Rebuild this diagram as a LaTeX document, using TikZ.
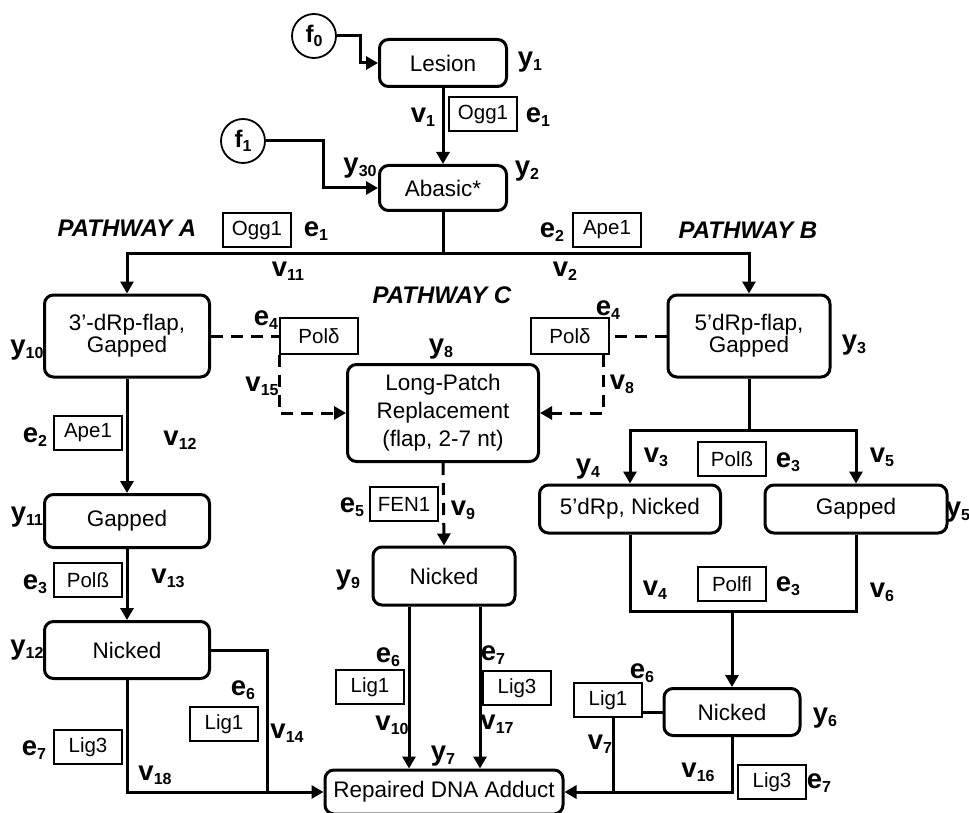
\documentclass[tikz,border=0pt]{standalone}
\usepackage{fontspec}
\setmainfont{Liberation Sans}
\usetikzlibrary{arrows.meta}
\tikzstyle{species}=[draw,line width=3pt,rounded corners=9pt,align=center,inner sep=0pt,font=\fontsize{22.5}{24}\selectfont]
\tikzstyle{enzyme}=[draw,line width=1.2pt,fill=white,minimum width=68pt,minimum height=34pt,inner sep=0pt,font=\fontsize{20.5}{21}\selectfont]
\tikzstyle{source}=[circle,draw,line width=1.8pt,minimum size=44pt,inner sep=0pt,font=\fontsize{24}{24}\selectfont\bfseries]
\tikzstyle{flow}=[line width=3pt,-{Triangle[length=12pt,width=13pt]}]
\tikzstyle{link}=[line width=3pt]
\tikzstyle{dflow}=[flow,dash pattern=on 12pt off 8pt]
\tikzstyle{dlink}=[link,dash pattern=on 12pt off 8pt]
\tikzstyle{pathway}=[inner sep=0pt,font=\fontsize{24}{24}\selectfont\bfseries\itshape]
\tikzstyle{var}=[inner sep=0pt,font=\fontsize{27.5}{28}\selectfont\bfseries]
\newcommand{\lbl}[2]{#1\raisebox{-4pt}{\fontsize{16}{16}\selectfont #2}}

\begin{document}
\begin{tikzpicture}[x=1pt,y=-1pt]
\useasboundingbox (0,0) rectangle (969,813);
\node[species,minimum width=127pt,minimum height=47pt] at (443,63) (lesion) {Lesion};
\node[species,minimum width=127pt,minimum height=45pt] at (443,188) (abasic) {Abasic*};
\node[species,minimum width=165pt,minimum height=82pt,font=\fontsize{22.5}{22}\selectfont] at (127,336) (flapA) {3’-dRp-flap,\\Gapped};
\node[species,minimum width=162pt,minimum height=82pt,font=\fontsize{22.5}{22}\selectfont] at (749,336) (flapB) {5’dRp-flap,\\Gapped};
\node[species,minimum width=191pt,minimum height=97pt,font=\fontsize{22.5}{28}\selectfont] at (443,413) (patch) {Long-Patch\\Replacement\\(flap, 2-7 nt)};
\node[species,minimum width=181pt,minimum height=48pt] at (630,509) (nickB) {5’dRp, Nicked};
\node[species,minimum width=182pt,minimum height=48pt] at (856,509) (gapB) {Gapped};
\node[species,minimum width=165pt,minimum height=53pt] at (127,521) (gapA) {Gapped};
\node[species,minimum width=165pt,minimum height=57pt] at (127,650) (nickA) {Nicked};
\node[species,minimum width=142pt,minimum height=58pt] at (444,576) (nickC) {Nicked};
\node[species,minimum width=136pt,minimum height=47pt] at (732,712) (nickD) {Nicked};
\node[species,minimum width=238pt,minimum height=44pt] at (444,792) (repaired) {Repaired DNA Adduct};
\node[source] at (314,36) (f0) {\lbl{f}{0}};
\node[source] at (243,141) (f1) {\lbl{f}{1}};

\node[enzyme] at (483,114) (ogg1) {Ogg1};
\node[enzyme] at (257,230) (ogg1A) {Ogg1};
\node[enzyme] at (607,230) (ape1B) {Ape1};
\node[enzyme,minimum width=78pt,minimum height=36pt] at (319,336) (poldA) {Polδ};
\node[enzyme,minimum width=78pt,minimum height=36pt] at (570,336) (poldB) {Polδ};
\node[enzyme] at (88,433) (ape1A) {Ape1};
\node[enzyme] at (88,580) (polbA) {Polß};
\node[enzyme] at (224,724) (lig1A) {Lig1};
\node[enzyme] at (88,747) (lig3A) {Lig3};
\node[enzyme] at (404,504) (fen1) {FEN1};
\node[enzyme] at (370,687) (lig1C) {Lig1};
\node[enzyme] at (517,688) (lig3C) {Lig3};
\node[enzyme] at (732,459) (polbB) {Polß};
\node[enzyme] at (732,584) (polfl) {Polfl};
\node[enzyme] at (608,700) (lig1B) {Lig1};
\node[enzyme] at (772,782) (lig3B) {Lig3};

\coordinate (split) at (443,253);
\coordinate (splitB) at (749,430);
\coordinate (mergeB) at (732,611);
\coordinate (join14) at (267,792);
\coordinate (join16) at (613,792);

\draw[flow] (f0.east) -- ++(24,0) |- (lesion.west);
\draw[flow] (f1.east) -- ++(58,0) |- (abasic.west);
\draw[flow] (lesion) -- (abasic);
\draw[flow] (abasic.south) -- (split) -| (flapA.north);
\draw[flow] (split) -| (flapB.north);
\draw[flow] (flapA) -- (gapA);
\draw[flow] (gapA) -- (nickA);
\draw[flow] (nickA.south) |- (repaired.west);
\draw[link] (nickA.east) -| (join14);
\draw[dlink] (flapA.east) -- (flapA.east -| poldA.west);
\draw[dflow] (poldA.south west) |- (patch.west);
\draw[dlink] (flapB.west) -- (flapB.west -| poldB.east);
\draw[dflow] ([xshift=-6pt]poldB.south east) |- (patch.east);
\draw[dflow] (patch.south) -- (nickC.north);
\draw[flow] ([xshift=-35pt]nickC.south) -- ([xshift=-35pt]repaired.north);
\draw[flow] ([xshift=36pt]nickC.south) -- ([xshift=36pt]repaired.north);
\draw[flow] (flapB.south) -- (splitB) -| (nickB.north);
\draw[flow] (splitB) -| (gapB.north);
\draw[link] (nickB.south) |- (mergeB) -| (gapB.south);
\draw[flow] (mergeB) -- (nickD.north);
\draw[link] (nickD.west) -- (nickD.west -| lig1B.east);
\draw[flow] ([xshift=5pt]lig1B.south) |- (repaired.east);
\draw[link] (nickD.south) |- (join16);

\node[pathway] at (127,228) (pathA) {PATHWAY A};
\node[pathway] at (748,230) (pathB) {PATHWAY B};
\node[pathway] at (442,295) (pathC) {PATHWAY C};

\node[var] at (530,62) (ly1) {\lbl{y}{1}};
\node[var] at (527,171) (ly2) {\lbl{y}{2}};
\node[var] at (360,168) (ly30) {\lbl{y}{30}};
\node[var] at (423,117) (lv1) {\lbl{v}{1}};
\node[var] at (538,117) (le1) {\lbl{e}{1}};
\node[var] at (316,231) (le1A) {\lbl{e}{1}};
\node[var] at (288,271) (lv11) {\lbl{v}{11}};
\node[var] at (552,232) (le2B) {\lbl{e}{2}};
\node[var] at (565,271) (lv2) {\lbl{v}{2}};
\node[var] at (27,350) (ly10) {\lbl{y}{10}};
\node[var] at (266,320) (le4A) {\lbl{e}{4}};
\node[var] at (441,349) (ly8) {\lbl{y}{8}};
\node[var] at (608,310) (le4B) {\lbl{e}{4}};
\node[var] at (854,345) (ly3) {\lbl{y}{3}};
\node[var] at (262,386) (lv15) {\lbl{v}{15}};
\node[var] at (622,384) (lv8) {\lbl{v}{8}};
\node[var] at (35,437) (le2A) {\lbl{e}{2}};
\node[var] at (180,440) (lv12) {\lbl{v}{12}};
\node[var] at (27,517) (ly11) {\lbl{y}{11}};
\node[var] at (35,584) (le3A) {\lbl{e}{3}};
\node[var] at (168,578) (lv13) {\lbl{v}{13}};
\node[var] at (588,469) (ly4) {\lbl{y}{4}};
\node[var] at (656,457) (lv3) {\lbl{v}{3}};
\node[var] at (788,462) (le3B) {\lbl{e}{3}};
\node[var] at (882,457) (lv5) {\lbl{v}{5}};
\node[var] at (958,512) (ly5) {\lbl{y}{5}};
\node[var] at (352,507) (le5) {\lbl{e}{5}};
\node[var] at (463,510) (lv9) {\lbl{v}{9}};
\node[var] at (348,580) (ly9) {\lbl{y}{9}};
\node[var] at (655,590) (lv4) {\lbl{v}{4}};
\node[var] at (788,586) (le3C) {\lbl{e}{3}};
\node[var] at (882,592) (lv6) {\lbl{v}{6}};
\node[var] at (27,650) (ly12) {\lbl{y}{12}};
\node[var] at (243,690) (le6A) {\lbl{e}{6}};
\node[var] at (287,733) (lv14) {\lbl{v}{14}};
\node[var] at (34,750) (le7A) {\lbl{e}{7}};
\node[var] at (155,775) (lv18) {\lbl{v}{18}};
\node[var] at (388,657) (le6C) {\lbl{e}{6}};
\node[var] at (392,725) (lv10) {\lbl{v}{10}};
\node[var] at (443,756) (ly7) {\lbl{y}{7}};
\node[var] at (493,655) (le7C) {\lbl{e}{7}};
\node[var] at (497,724) (lv17) {\lbl{v}{17}};
\node[var] at (642,673) (le6B) {\lbl{e}{6}};
\node[var] at (825,718) (ly6) {\lbl{y}{6}};
\node[var] at (600,744) (lv7) {\lbl{v}{7}};
\node[var] at (698,772) (lv16) {\lbl{v}{16}};
\node[var] at (819,783) (le7B) {\lbl{e}{7}};
\end{tikzpicture}
\end{document}
